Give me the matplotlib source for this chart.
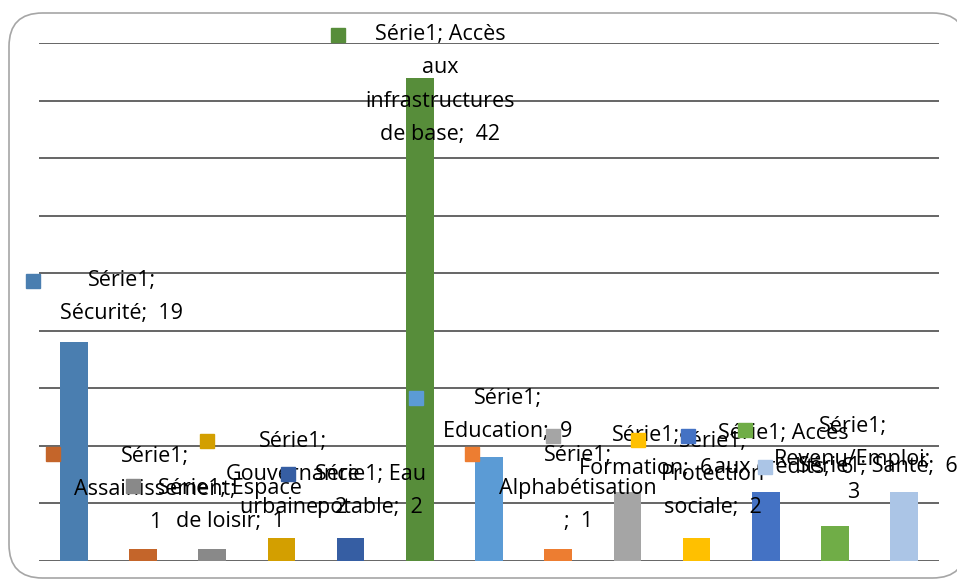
import matplotlib.pyplot as plt
from matplotlib.patches import FancyBboxPatch

plt.rcParams['font.family'] = ['Open Sans', 'DejaVu Sans']

categories = ["Sécurité", "Assainissement", "Espace de loisir", "Gouvernance urbaine",
              "Eau potable", "Accès aux infrastructures de base", "Education",
              "Alphabétisation", "Formation", "Protection sociale", "Accès aux crédits",
              "Revenu/Emploi", "Santé"]
values = [19, 1, 1, 2, 2, 42, 9, 1, 6, 2, 6, 3, 6]
colors = ["#4a7eb0", "#c4652a", "#898989", "#d39f00", "#365ea3", "#578d3a", "#5b9bd5",
          "#ed7d31", "#a5a5a5", "#ffc000", "#4472c4", "#70ad47", "#abc5e6"]

# data labels as excel wrapped them
labels = ["Série1;\nSécurité;  19",
          "Série1;\nAssainissement;\n1",
          "Série1; Espace\nde loisir;  1",
          "Série1;\nGouvernance\nurbaine;  2",
          "Série1; Eau\npotable;  2",
          "Série1; Accès\naux\ninfrastructures\nde base;  42",
          "Série1;\nEducation;  9",
          "Série1;\nAlphabétisation\n;  1",
          "Série1;\nFormation;  6",
          "Série1;\nProtection\nsociale;  2",
          "Série1; Accès\naux crédits;  6",
          "Série1;\nRevenu/Emploi;\n3",
          "Série1; Santé;  6"]
# label text centre (offset from bar, y) and legend key (offset, y)
lab_dx = [0.69, 0.17, 0.26, 0.17, 0.28, 0.29, 0.27, 0.29, 0.27, 0.24, 0.26, 0.26, -0.38]
lab_y = [22.9, 6.2, 4.9, 7.5, 6.1, 41.4, 12.7, 6.3, 9.5, 7.5, 9.6, 8.8, 8.2]
key_dx = [-0.59, -1.30, -1.15, -1.08, -0.91, -1.18, -1.06, -1.25, -1.08, -0.85, -1.12, -1.30, -2.01]
key_y = [24.3, 9.3, 6.5, 10.4, 7.6, 45.7, 14.2, 9.3, 10.9, 10.5, 10.9, 11.4, 8.2]

fig = plt.figure(figsize=(9.57, 5.82), dpi=100)
W, H = 957, 582
frame = FancyBboxPatch((9 / W, 4 / H), 1.0, 565 / H,
                       boxstyle="round,pad=0,rounding_size=0.035",
                       transform=fig.transFigure, fc="white", ec="#a6a6a6", lw=1.2,
                       mutation_aspect=W / H, zorder=-5)
fig.patches.append(frame)

ax = fig.add_axes([39.4 / W, (H - 561) / H, (938.6 - 39.4) / W, (561 - 43) / H])
ax.set_zorder(2)
ax.patch.set_alpha(0)
x = list(range(len(values)))
ax.bar(x, values, width=0.4, color=colors, zorder=2)
ax.set_xlim(-0.5, 12.5)
ax.set_ylim(0, 45)
ax.set_yticks(range(0, 46, 5))
ax.yaxis.grid(True, color="#3c3c3c", lw=1.1)
ax.set_axisbelow(True)
ax.tick_params(left=False, bottom=False, labelleft=False, labelbottom=False)
for s in ax.spines.values():
    s.set_visible(False)

for i in x:
    ax.text(i + lab_dx[i], lab_y[i], labels[i], ha="center", va="center",
            fontsize=15.5, linespacing=1.76, color="black", zorder=3, clip_on=False)
    ax.plot(i + key_dx[i], key_y[i], marker="s", ms=10, color=colors[i],
            ls="none", zorder=4, clip_on=False)

fig.savefig("out.png", dpi=100)
